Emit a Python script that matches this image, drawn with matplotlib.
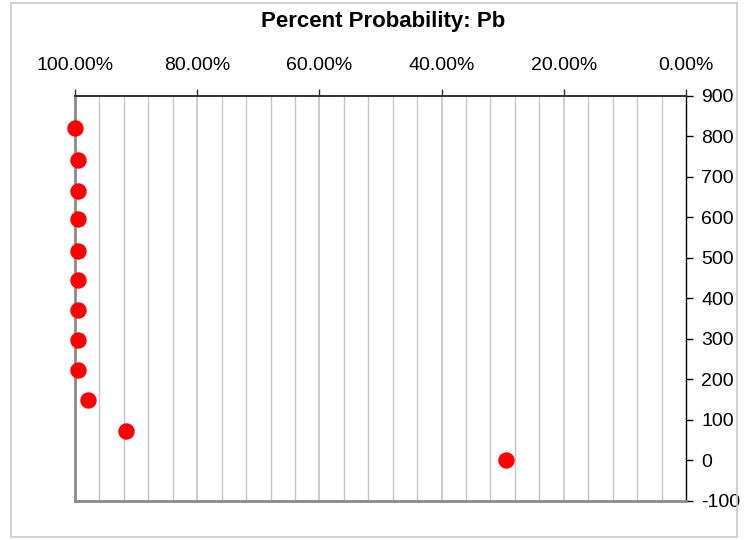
import matplotlib
matplotlib.use("Agg")
import matplotlib.pyplot as plt
from matplotlib.patches import Rectangle
from matplotlib.ticker import FixedLocator, PercentFormatter, FuncFormatter

plt.rcParams['font.family'] = ['Liberation Sans', 'DejaVu Sans']
plt.rcParams['axes.unicode_minus'] = False

# Probability (%) of Pb vs. value
prob_pct = [100.0, 99.5, 99.5, 99.5, 99.5, 99.5, 99.5, 99.5, 99.5, 97.9, 91.6, 29.5]
values = [820, 743, 666, 595, 517, 446, 370, 298, 222, 149, 73, 0]

title = "Percent Probability: Pb"
x_major = [100, 80, 60, 40, 20, 0]
x_minor = [96, 92, 88, 84, 76, 72, 68, 64, 56, 52, 48, 44, 36, 32, 28, 24, 16, 12, 8, 4]
y_ticks = [-100, 0, 100, 200, 300, 400, 500, 600, 700, 800, 900]

W, H = 746, 540
fig = plt.figure(figsize=(W / 100, H / 100), dpi=100)
fig.patch.set_facecolor("white")

# light frame around the chart area
fig.add_artist(Rectangle((11 / W, 1 - 537 / H), (737 - 11) / W, (537 - 3) / H,
                         transform=fig.transFigure, fill=False,
                         edgecolor="#c8c8c8", linewidth=1.2))

left, right, top, bottom = 75, 686, 96, 500.7
ax = fig.add_axes([left / W, 1 - bottom / H, (right - left) / W, (bottom - top) / H])

ax.set_xlim(100, 0)
ax.set_ylim(-100, 900)

# vertical gridlines at majors and minors
for xv in x_major[1:-1]:
    ax.axvline(xv, color="#c4c4c4", linewidth=1.2, zorder=1)
for xv in x_minor:
    ax.axvline(xv, color="#c4c4c4", linewidth=1.0, zorder=1)

ax.plot(prob_pct, values, linestyle="none", marker="o", markersize=10.8,
        markerfacecolor="#ff0000", markeredgecolor="#ff0000", zorder=5,
        clip_on=False)

# x axis on top, reversed
ax.xaxis.set_ticks_position("top")
ax.xaxis.set_label_position("top")
ax.xaxis.set_major_locator(FixedLocator(x_major))
ax.xaxis.set_major_formatter(PercentFormatter(decimals=2))
ax.tick_params(axis="x", which="major", direction="out", length=5, width=1,
               color="#303030", labelsize=14, pad=11)

# y axis on right
ax.yaxis.set_ticks_position("right")
ax.yaxis.set_major_locator(FixedLocator(y_ticks))
ax.yaxis.set_major_formatter(FuncFormatter(lambda v, p: f"{int(v)}"))
ax.tick_params(axis="y", which="major", direction="out", length=5, width=1,
               color="black", labelsize=14, pad=6)

ax.spines["top"].set_color("#303030")
ax.spines["top"].set_linewidth(1.4)
ax.spines["right"].set_color("black")
ax.spines["right"].set_linewidth(1.0)
ax.spines["left"].set_color("#8a8a8a")
ax.spines["left"].set_linewidth(2.0)
ax.spines["bottom"].set_color("#8a8a8a")
ax.spines["bottom"].set_linewidth(2.0)

fig.text(383 / W, 1 - 21 / H, title, ha="center", va="center",
         fontsize=16, fontweight="bold")

fig.savefig("out.png", dpi=100)
